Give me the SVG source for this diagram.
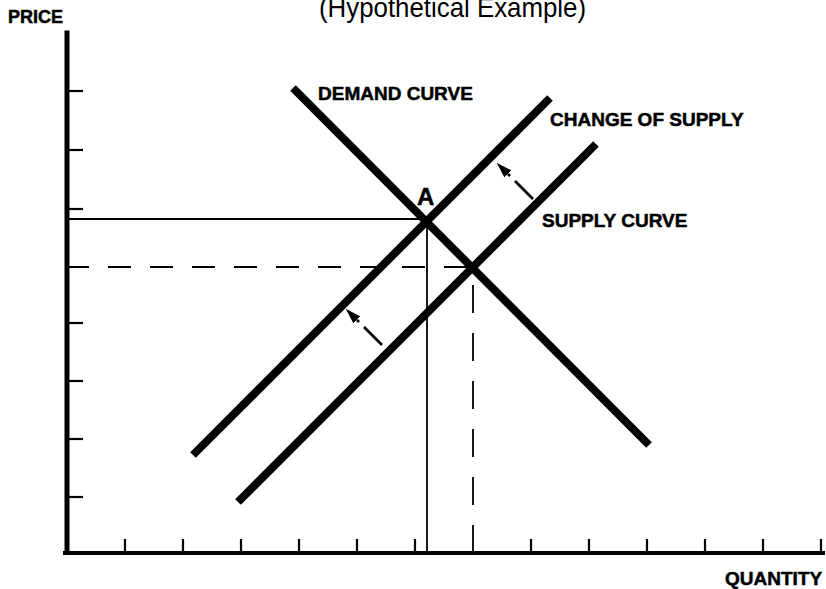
<svg xmlns="http://www.w3.org/2000/svg" width="826" height="589" viewBox="0 0 826 589">
  <style>
    .bg { fill: #ffffff; }
    .axis { stroke: #000; fill: none; stroke-linecap: square; }
    .tick { stroke: #000; stroke-width: 2.2; fill: none; }
    .ref { stroke: #000; stroke-width: 1.8; fill: none; }
    .dash { stroke: #000; stroke-width: 1.8; fill: none; }
    .curve { stroke: #000; stroke-width: 8; fill: none; stroke-linecap: butt; }
    .shift { stroke: #000; stroke-width: 2.6; fill: none; }
    .lbl { font-family: "Liberation Sans", Arial, sans-serif; font-weight: bold; font-size: 19px; fill: #000; stroke: #000; stroke-width: 0.5; }
    .title { font-family: "Liberation Sans", Arial, sans-serif; font-size: 28px; fill: #000; }
  </style>
  <defs>
    <marker id="head" viewBox="0 0 16 10" refX="0" refY="5" markerWidth="16" markerHeight="10" markerUnits="userSpaceOnUse" orient="auto">
      <path d="M0,0 L16,5 L0,10 Z" fill="#000"/>
    </marker>
  </defs>
  <rect class="bg" x="0" y="0" width="826" height="589"/>

  <text class="title" x="319" y="17" textLength="267" lengthAdjust="spacingAndGlyphs">(Hypothetical Example)</text>

  <g id="axes">
    <line class="axis" x1="67" y1="33" x2="67" y2="552" stroke-width="5"/>
    <line class="axis" x1="65" y1="553" x2="823" y2="553" stroke-width="4"/>
    <g id="y-ticks">
      <line class="tick" x1="67" y1="91" x2="83" y2="91"/>
      <line class="tick" x1="67" y1="150" x2="83" y2="150"/>
      <line class="tick" x1="67" y1="209" x2="83" y2="209"/>
      <line class="tick" x1="67" y1="323" x2="83" y2="323"/>
      <line class="tick" x1="67" y1="381" x2="83" y2="381"/>
      <line class="tick" x1="67" y1="439" x2="83" y2="439"/>
      <line class="tick" x1="67" y1="497" x2="83" y2="497"/>
    </g>
    <g id="x-ticks">
      <line class="tick" x1="125" y1="539" x2="125" y2="553"/>
      <line class="tick" x1="183" y1="539" x2="183" y2="553"/>
      <line class="tick" x1="241" y1="539" x2="241" y2="553"/>
      <line class="tick" x1="299" y1="539" x2="299" y2="553"/>
      <line class="tick" x1="357" y1="539" x2="357" y2="553"/>
      <line class="tick" x1="415" y1="539" x2="415" y2="553"/>
      <line class="tick" x1="531" y1="539" x2="531" y2="553"/>
      <line class="tick" x1="589" y1="539" x2="589" y2="553"/>
      <line class="tick" x1="647" y1="539" x2="647" y2="553"/>
      <line class="tick" x1="705" y1="539" x2="705" y2="553"/>
      <line class="tick" x1="763" y1="539" x2="763" y2="553"/>
      <line class="tick" x1="821" y1="539" x2="821" y2="553"/>
    </g>
    <text class="lbl" x="8" y="23" style="font-size:18px">PRICE</text>
    <text class="lbl" x="725" y="585">QUANTITY</text>
  </g>

  <g id="reference-lines">
    <line class="ref" x1="67" y1="219" x2="427" y2="219"/>
    <line class="ref" x1="427" y1="219" x2="427" y2="553"/>
    <line class="dash" x1="66" y1="267" x2="472" y2="267" stroke-dasharray="23 19"/>
    <line class="dash" x1="473" y1="553" x2="473" y2="268" stroke-dasharray="28 20"/>
  </g>

  <g id="demand-curve">
    <line class="curve" x1="293" y1="88" x2="649" y2="445"/>
    <text class="lbl" x="318" y="100">DEMAND CURVE</text>
  </g>

  <g id="change-of-supply">
    <line class="curve" x1="193" y1="455" x2="550" y2="98"/>
    <text class="lbl" x="550" y="126">CHANGE OF SUPPLY</text>
  </g>

  <g id="supply-curve">
    <line class="curve" x1="238" y1="502" x2="596" y2="144"/>
    <text class="lbl" x="542" y="227">SUPPLY CURVE</text>
  </g>

  <g id="point-a">
    <text class="lbl" x="417" y="205" style="font-size:24px">A</text>
  </g>

  <g id="connectors">
    <line class="shift" x1="533" y1="199" x2="515" y2="181"/>
    <line class="shift" x1="510" y1="176" x2="508" y2="174" marker-end="url(#head)"/>
    <line class="shift" x1="382" y1="345" x2="364" y2="327"/>
    <line class="shift" x1="359" y1="322" x2="357" y2="320" marker-end="url(#head)"/>
  </g>
</svg>
